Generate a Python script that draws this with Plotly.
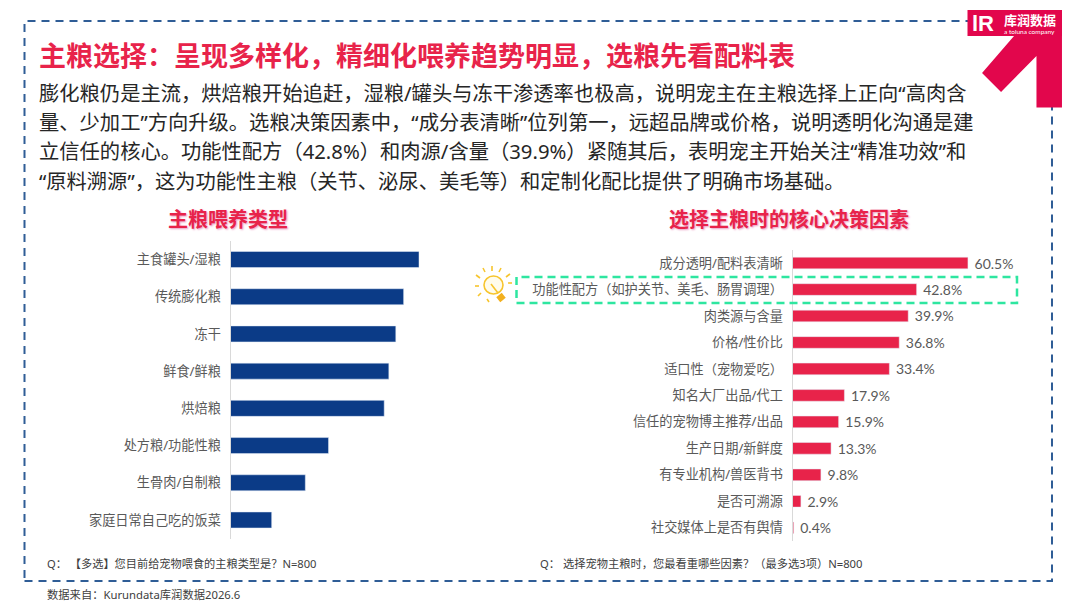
import plotly.graph_objects as go

W, H = 1080, 607
CJK = "Noto Sans, Noto Sans CJK SC"
RED = "#E8234A"
BLUE = "#0B3B87"
GREY = "#595959"
# source text uses full-width punctuation
FULL = str.maketrans({",": "\uff0c", ":": "\uff1a", "(": "\uff08", ")": "\uff09", "?": "\uff1f"})

# left chart: no printed values in the source
feed_types = ["主食罐头/湿粮", "传统膨化粮", "冻干", "鲜食/鲜粮", "烘焙粮", "处方粮/功能性粮", "生骨肉/自制粮", "家庭日常自己吃的饭菜"]
feed_values = [65.0, 59.7, 57.0, 54.6, 53.0, 33.8, 25.8, 14.2]

factors = ["成分透明/配料表清晰", "功能性配方(如护关节、美毛、肠胃调理)", "肉类源与含量", "价格/性价比", "适口性(宠物爱吃)",
           "知名大厂出品/代工", "信任的宠物博主推荐/出品", "生产日期/新鲜度", "有专业机构/兽医背书", "是否可溯源", "社交媒体上是否有舆情"]
factors = [f.translate(FULL) for f in factors]
factor_values = [60.5, 42.8, 39.9, 36.8, 33.4, 17.9, 15.9, 13.3, 9.8, 2.9, 0.4]

title = "主粮选择:呈现多样化,精细化喂养趋势明显,选粮先看配料表"
body_lines = [
    "膨化粮仍是主流,烘焙粮开始追赶,湿粮/罐头与冻干渗透率也极高,说明宠主在主粮选择上正向“高肉含",
    "量、少加工”方向升级。选粮决策因素中,“成分表清晰”位列第一,远超品牌或价格,说明透明化沟通是建",
    "立信任的核心。功能性配方(42.8%)和肉源/含量(39.9%)紧随其后,表明宠主开始关注“精准功效”和",
    "“原料溯源”,这为功能性主粮(关节、泌尿、美毛等)和定制化配比提供了明确市场基础。",
]


def px(x):
    return x / W


def py(y):
    return 1 - y / H


def note(text, x, y, size, color=GREY, anchor="left", bold=False, family=CJK, shadow=None):
    font = dict(family=family, size=size, color=color, weight=700 if bold else 400)
    if shadow:
        font["shadow"] = shadow
    fig.add_annotation(text=text.translate(FULL), x=px(x), y=py(y), xref="paper", yref="paper", xanchor=anchor,
                       yanchor="middle", showarrow=False, font=font)


fig = go.Figure()

fig.add_trace(go.Bar(y=feed_types, x=feed_values, orientation="h", marker_color=BLUE, xaxis="x", yaxis="y", width=0.43))
fig.add_trace(go.Bar(y=factors, x=factor_values, orientation="h", marker_color=RED, xaxis="x2", yaxis="y2", width=0.44,
                     texttemplate="\u00a0%{x:.1f}%", textposition="outside", cliponaxis=False, constraintext="none",
                     textfont=dict(family="Lato", size=14, color=GREY)))

tick_font = dict(family=CJK, size=13.2, color=GREY)
y_common = dict(autorange="reversed", showline=True, linecolor="#D9D9D9", linewidth=1, showgrid=False, ticks="",
                tickfont=tick_font, ticklabelstandoff=6, automargin=False)
fig.update_layout(
    width=W, height=H, margin=dict(l=0, r=0, t=0, b=0), paper_bgcolor="white", plot_bgcolor="white", showlegend=False,
    xaxis=dict(domain=[px(230.5), px(462.5)], range=[0, 80], visible=False, anchor="y"),
    yaxis=dict(domain=[py(538.6), py(240.9)], anchor="x", **y_common),
    xaxis2=dict(domain=[px(792.5), px(1024.5)], range=[0, 80], visible=False, anchor="y2"),
    yaxis2=dict(domain=[py(541), py(249.8)], anchor="x2", **y_common),
)

# dashed frame
fig.add_shape(type="rect", xref="paper", yref="paper", x0=px(24.5), x1=px(1052), y0=py(581), y1=py(21),
              line=dict(color="#2F5D96", width=2, dash="8px 6px"))

# logo block and arrow
logo_arrow = [(1014, 36), (1062, 36), (1062, 107.6), (1036.5, 107.6), (1036.5, 56), (1001, 92), (982, 73)]
path = "M" + " L".join(f"{px(x):.4f},{py(y):.4f}" for x, y in logo_arrow) + " Z"
fig.add_shape(type="path", path=path, xref="paper", yref="paper", fillcolor="#E2064C", line_width=0)
fig.add_shape(type="rect", xref="paper", yref="paper", x0=px(967.5), x1=px(1062), y0=py(36), y1=py(10),
              fillcolor="#E2064C", line_width=0)
note("lR", 970, 23, 22, "white", bold=True, family="Liberation Sans")
note("库润数据", 1002, 20, 13, "white", bold=True)
note("a toluna company", 1002, 31, 6.5, "white", family="Lato")

# highlight box around the second factor
fig.add_shape(type="rect", xref="paper", yref="paper", x0=px(516.5), x1=px(1017), y0=py(303), y1=py(277),
              line=dict(color="#2EE6A0", width=2.5, dash="8px 5px"))

# bulb icon
BULB = "#F7C52D"
fig.add_shape(type="circle", xref="paper", yref="paper", x0=px(484), x1=px(503), y0=py(294), y1=py(276),
              line=dict(color=BULB, width=1.6), fillcolor="#FFFCEB")
for x0, y0, x1, y1 in [(492, 266, 492, 271), (483, 268, 485, 272), (501, 268, 499, 272), (476, 275, 480, 278),
                       (510, 274, 506, 277), (475, 286, 479, 286), (508, 283, 512, 283), (478, 296, 481, 293),
                       (487, 299, 489, 302), (491, 284, 498, 293)]:
    fig.add_shape(type="line", xref="paper", yref="paper", x0=px(x0), x1=px(x1), y0=py(y0), y1=py(y1),
                  line=dict(color=BULB, width=1.6))
fig.add_shape(type="line", xref="paper", yref="paper", x0=px(499), x1=px(503), y0=py(295), y1=py(300),
              line=dict(color="#F2B01E", width=7))

# headline and paragraph
note(title, 37, 56, 27, RED, bold=True)
for line, y in zip(body_lines, [93, 122, 151, 181]):
    note(line, 37, y, 20.3, "#262626")

shadow = "1px 1px 2px #E89BC0"
note("主粮喂养类型", 228, 219.5, 20, RED, anchor="center", bold=True, shadow=shadow)
note("选择主粮时的核心决策因素", 789, 219.5, 20, RED, anchor="center", bold=True, shadow=shadow)

note("Q: 【多选】您目前给宠物喂食的主粮类型是?N=800", 45, 563, 11.2, "#404040")
note("Q: 选择宠物主粮时,您最看重哪些因素?(最多选3项)N=800", 538, 563, 11.25, "#404040")
note("数据来自:Kurundata库润数据2026.6", 45, 594, 11.3, "#404040")

fig.write_html("out.html", post_script="document.body.style.margin='0';", config={"displayModeBar": False})
